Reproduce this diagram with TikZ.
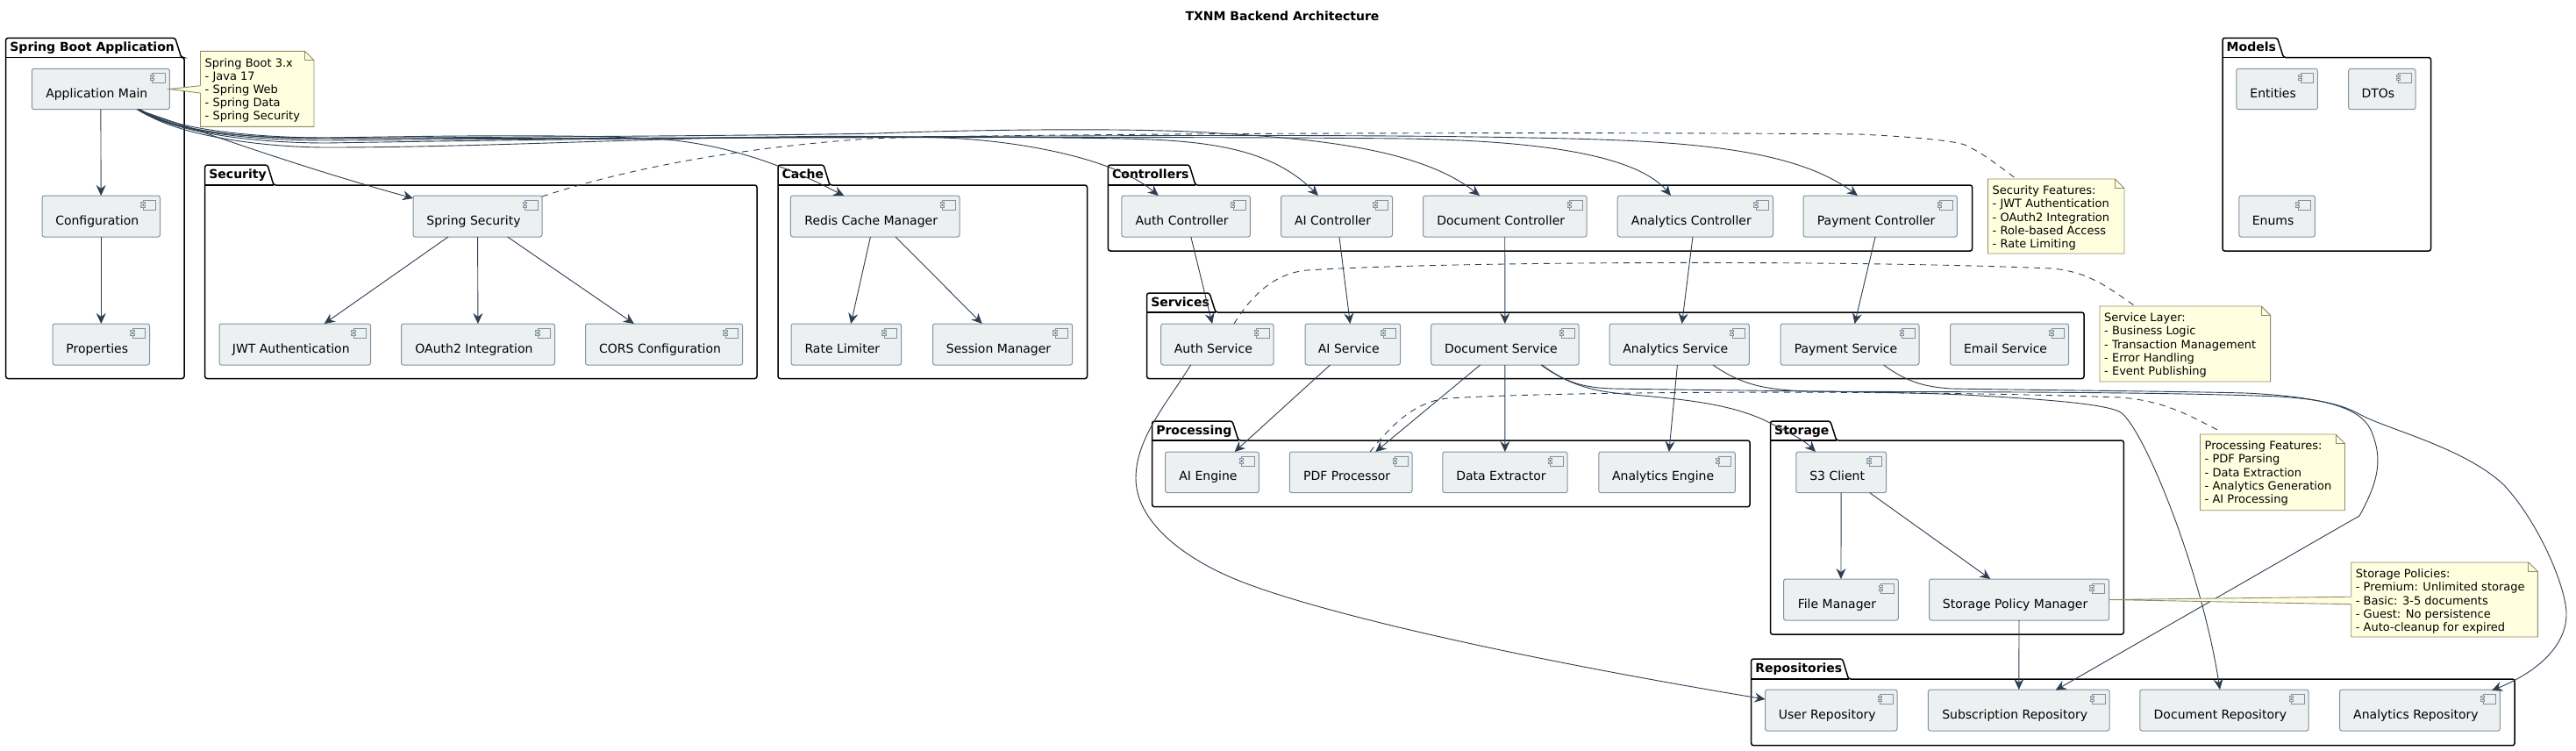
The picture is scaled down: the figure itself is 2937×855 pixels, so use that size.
\documentclass[tikz,border=0pt]{standalone}
\usepackage{fontspec}
\setmainfont{DejaVu Sans}
\usetikzlibrary{arrows.meta,calc}
\definecolor{compfill}{HTML}{ECF0F1}
\definecolor{compline}{HTML}{8492A0}
\definecolor{wire}{HTML}{2C3E50}
\definecolor{notefill}{HTML}{FFFFE0}
\definecolor{noteline}{HTML}{8C8C6E}
\tikzset{
  compbox/.style={draw=compline,fill=compfill,line width=1pt,rounded corners=2.5pt,inner sep=0pt,outer sep=0pt,anchor=north west,font=\fontsize{14}{16.8}\selectfont},
  iconline/.style={draw=compline,line width=.8pt,fill=compfill},
  arr/.style={draw=wire,line width=.9pt,-{Stealth[length=12pt,width=11pt,inset=4pt]}},
  notewire/.style={draw=wire,line width=.9pt,dash pattern=on 7pt off 6pt},
  pkgline/.style={draw=black,line width=1.5pt,rounded corners=2.5pt,fill=white},
  pkgtitle/.style={anchor=base west,inner sep=0pt,font=\bfseries\fontsize{14}{16.8}\selectfont},
  notebox/.style={draw=noteline,fill=notefill,line width=.9pt},
  notetext/.style={anchor=north west,inner sep=0pt,align=left,font=\fontsize{13}{15.15}\selectfont},
}
\newcommand\comp[6]{%
  \pgfmathsetmacro\compw{#4-#2}\pgfmathsetmacro\comph{#5-#3}%
  \node[compbox,minimum width=\compw pt,minimum height=\comph pt] (#1) at (#2,#3)
    {\hspace*{-9pt}\rule[-4pt]{0pt}{27pt}#6};
  \draw[iconline] ($(#1.north east)+(-19.5,5.3)$) rectangle ($(#1.north east)+(-5,16)$);
  \draw[iconline] ($(#1.north east)+(-22,7.4)$) rectangle ($(#1.north east)+(-17.6,9.4)$);
  \draw[iconline] ($(#1.north east)+(-22,11.4)$) rectangle ($(#1.north east)+(-17.6,13.4)$);
}
\newcommand\pkg[8]{%
  \draw[pkgline] (#2,#5) -- (#2,#3) -- ({#4-7},#3) -- (#4,#5) -- (#6,#5) -- (#6,#7) -- (#2,#7) -- cycle;
  \draw[draw=black,line width=1.5pt] (#2,#5) -- (#4,#5);
  \node[pkgtitle] (#1) at ({#2+4.5},{#3+15}) {#8};
}
\newcommand\notebx[6]{%
  \draw[notebox] (#2,#3) -- ({#4-10.5},#3) -- (#4,{#3+10.5}) -- (#4,#5) -- (#2,#5) -- cycle;
  \draw[draw=noteline,line width=.9pt] ({#4-10.5},#3) -- ({#4-10.5},{#3+10.5}) -- (#4,{#3+10.5});
  \coordinate (#1-box) at (#2,#3);
  \node[notetext] (#1) at ({#2+5},{#3+7.5}) {\rule{0pt}{10pt}#6};
}
\newcommand\ptat[4]{\coordinate (#1) at ($(#2)+(#3,#4)$);}
\begin{document}
\begin{tikzpicture}[x=1pt,y=-1pt]
\useasboundingbox (0,0) rectangle (2937,855);
\fill[white] (0,0) rectangle (2937,855);
\node[anchor=base,inner sep=0pt,font=\bfseries\fontsize{14}{16.8}\selectfont] (title) at (1462,23) {TXNM Backend Architecture};

% packages
\pkg{pBoot}{6.7}{43.3}{206.7}{65.5}{210}{431.5}{Spring Boot Application}
\pkg{pSec}{233.7}{188}{312}{211}{863}{431.5}{Security}
\pkg{pCache}{887}{188}{946}{211}{1239.5}{431.5}{Cache}
\pkg{pCtrl}{1263.4}{188}{1363}{211}{2248.6}{286}{Controllers}
\pkg{pSvc}{1307.6}{334}{1386}{356}{2376}{431.5}{Services}
\pkg{pProc}{1313.6}{480}{1412}{502}{1995}{577.7}{Processing}
\pkg{pStore}{2018.5}{480}{2093.8}{502}{2421.3}{723}{Storage}
\pkg{pRepo}{1996.7}{751}{2107.6}{774}{2867}{849.7}{Repositories}
\pkg{pModel}{2534}{43.3}{2603.5}{65.5}{2771.5}{286}{Models}

% components
\comp{app}{36.3}{78.3}{193.3}{124.7}{Application Main}
\comp{conf}{48}{223}{182.5}{270}{Configuration}
\comp{props}{60}{369}{170.5}{416}{Properties}
\comp{sec}{471}{223}{618}{270}{Spring Security}
\comp{jwt}{250}{369}{422.5}{416}{JWT Authentication}
\comp{oauth}{457.5}{369}{632.5}{416}{OAuth2 Integration}
\comp{cors}{667.5}{369}{846.6}{416}{CORS Configuration}
\comp{redis}{901.4}{223}{1094}{270}{Redis Cache Manager}
\comp{rate}{902}{369}{1027.7}{416}{Rate Limiter}
\comp{sess}{1063.5}{369}{1222.7}{416}{Session Manager}
\comp{cAuth}{1278.8}{223}{1425.4}{270}{Auth Controller}
\comp{cAI}{1460.5}{223}{1587.5}{270}{AI Controller}
\comp{cDoc}{1622.5}{223}{1809}{270}{Document Controller}
\comp{cAna}{1844.2}{223}{2021.5}{270}{Analytics Controller}
\comp{cPay}{2056}{223}{2231.3}{270}{Payment Controller}
\comp{sAuth}{1323.7}{369}{1452}{416}{Auth Service}
\comp{sAI}{1488}{369}{1596.6}{416}{AI Service}
\comp{sDoc}{1631.7}{369}{1800}{416}{Document Service}
\comp{sAna}{1835}{369}{1994.4}{416}{Analytics Service}
\comp{sPay}{2030}{369}{2188}{416}{Payment Service}
\comp{sMail}{2223.5}{369}{2358.6}{416}{Email Service}
\comp{eAI}{1328.6}{515}{1435.3}{561.7}{AI Engine}
\comp{ePDF}{1470.3}{515}{1610}{561.7}{PDF Processor}
\comp{eData}{1644.8}{515}{1787}{561.7}{Data Extractor}
\comp{eAna}{1822.8}{515}{1978.4}{561.7}{Analytics Engine}
\comp{s3}{2047.8}{515}{2150.6}{561.7}{S3 Client}
\comp{file}{2033.5}{660}{2164.3}{707}{File Manager}
\comp{policy}{2199.6}{660}{2404.6}{707}{Storage Policy Manager}
\comp{rUser}{2012.5}{786}{2163}{833}{User Repository}
\comp{rSub}{2198.4}{786}{2405}{833}{Subscription Repository}
\comp{rDoc}{2439.8}{786}{2632}{833}{Document Repository}
\comp{rAna}{2667.5}{786}{2850.4}{833}{Analytics Repository}
\comp{entities}{2549.8}{78.3}{2642.4}{124.7}{Entities}
\comp{dtos}{2677.7}{78.3}{2754}{124.7}{DTOs}
\comp{enums}{2552.8}{223}{2639.4}{270}{Enums}

% straight connectors
\draw[arr] (app) -- (conf);
\draw[arr] (conf) -- (props);
\draw[arr] (sec) -- (jwt);
\draw[arr] (sec) -- (oauth);
\draw[arr] (sec) -- (cors);
\draw[arr] (redis) -- (rate);
\draw[arr] (redis) -- (sess);
\draw[arr] (cAuth) -- (sAuth);
\draw[arr] (cAI) -- (sAI);
\draw[arr] (cDoc) -- (sDoc);
\draw[arr] (cAna) -- (sAna);
\draw[arr] (cPay) -- (sPay);
\draw[arr] (sAI) -- (eAI);
\draw[arr] (sDoc) -- (ePDF);
\draw[arr] (sDoc) -- (eData);
\draw[arr] (sAna) -- (eAna);
\draw[arr] (s3) -- (file);
\draw[arr] (s3) -- (policy);
\draw[arr] (policy) -- (rSub);

% curved connectors from Application Main
\ptat{appA}{app.south west}{120}{0}
\ptat{appB}{app.south west}{121.5}{0}
\ptat{appC}{app.south west}{123}{0}
\ptat{secIn}{sec.north west}{0}{3}
\ptat{redisIn}{redis.north west}{61}{0}
\ptat{cAuthIn}{cAuth.north west}{42}{0}
\ptat{cAIIn}{cAI.north west}{42.5}{0}
\ptat{cDocIn}{cDoc.north west}{64.5}{0}
\ptat{cAnaIn}{cAna.north west}{60.8}{0}
\ptat{cPayIn}{cPay.north west}{62}{0}
\draw[arr] (appA) .. controls (230,150) and (340,190) .. (secIn);
\draw[arr] (appA) .. controls (195,150) and (280,158) .. (373,157) .. controls (500,155) and (680,152) .. (769,160) .. controls (830,167) and (880,185) .. (921,203) .. controls (935,209) and (950,217) .. (redisIn);
\draw[arr] (appB) .. controls (200,155) and (300,168) .. (373,168) .. controls (600,168) and (850,150) .. (1075,157) .. controls (1160,160) and (1270,180) .. (cAuthIn);
\draw[arr] (appB) .. controls (200,152) and (290,163) .. (373,163) .. controls (550,160) and (1000,153) .. (1280,158) .. controls (1380,160) and (1450,170) .. (cAIIn);
\draw[arr] (appC) .. controls (200,150) and (280,158) .. (373,158) .. controls (550,156) and (850,155) .. (1000,152) .. controls (1100,148) and (1300,145) .. (1391,152) .. controls (1500,158) and (1620,170) .. (cDocIn);
\draw[arr] (appC) .. controls (200,152) and (290,160) .. (373,160) .. controls (700,157) and (1300,155) .. (1600,158) .. controls (1720,160) and (1860,170) .. (cAnaIn);
\draw[arr] (appC) .. controls (200,148) and (290,157) .. (373,157) .. controls (800,160) and (1400,150) .. (1742,157) .. controls (1900,160) and (2040,165) .. (cPayIn);

% curved connectors from the services
\ptat{sAuthOut}{sAuth.south west}{34}{0}
\ptat{rUserIn}{rUser.north west}{0}{11}
\draw[arr] (sAuthOut) .. controls (1330,460) and (1295,500) .. (1295,545) .. controls (1295,590) and (1340,630) .. (1401,657) .. controls (1480,692) and (1700,745) .. (rUserIn);
\ptat{sDocOutA}{sDoc.south west}{125.3}{0}
\ptat{sDocOutB}{sDoc.south west}{126.5}{0}
\ptat{s3In}{s3.north west}{22.2}{0}
\draw[arr] (sDocOutA) .. controls (1785,436) and (1810,445) .. (1850,449) .. controls (1920,455) and (1975,460) .. (2018,482) .. controls (2035,491) and (2055,500) .. (s3In);
\ptat{rDocIn}{rDoc.north west}{91.2}{0}
\draw[arr] (sDocOutB) .. controls (1785,436) and (1805,442) .. (1840,443) .. controls (1950,445) and (2150,446) .. (2239,450) .. controls (2330,455) and (2400,460) .. (2418,470) .. controls (2445,490) and (2510,650) .. (rDocIn);
\ptat{sAnaOut}{sAna.south west}{118}{0}
\ptat{rAnaIn}{rAna.north west}{173.5}{1}
\draw[arr] (sAnaOut) .. controls (1985,438) and (2010,444) .. (2060,446) .. controls (2200,447) and (2450,446) .. (2598,452) .. controls (2645,455) and (2670,461) .. (2690,472) .. controls (2720,489) and (2810,510) .. (2855,553) .. controls (2895,596) and (2926,670) .. (2926,700) .. controls (2926,735) and (2895,765) .. (rAnaIn);
\ptat{sPayOut}{sPay.south west}{117.6}{0}
\ptat{rSubIn}{rSub.north west}{145.2}{0.7}
\draw[arr] (sPayOut) .. controls (2175,436) and (2195,441) .. (2225,443) .. controls (2350,445) and (2480,446) .. (2560,448) .. controls (2640,452) and (2690,462) .. (2703,490) .. controls (2716,520) and (2714,545) .. (2690,588) -- (rSubIn);

% notes
\notebx{nBoot}{228.5}{58.3}{358}{144.3}{Spring Boot 3.x\\- Java 17\\- Spring Web\\- Spring Data\\- Spring Security}
\notebx{nSec}{2266.5}{204}{2422}{289}{Security Features:\\- JWT Authentication\\- OAuth2 Integration\\- Role-based Access\\- Rate Limiting}
\notebx{nSvc}{2394}{349}{2588.6}{435}{Service Layer:\\- Business Logic\\- Transaction Management\\- Error Handling\\- Event Publishing}
\notebx{nProc}{2508.5}{495}{2673.5}{581.7}{Processing Features:\\- PDF Parsing\\- Data Extraction\\- Analytics Generation\\- AI Processing}
\notebx{nStore}{2680.7}{641}{2893.4}{726}{Storage Policies:\\- Premium: Unlimited storage\\- Basic: 3-5 documents\\- Guest: No persistence\\- Auto-cleanup for expired}

% note wedges
\ptat{wBootA}{nBoot-box}{0}{39.4}
\ptat{wBootB}{nBoot-box}{0}{47.8}
\fill[notefill] (app.east) -- (wBootA) -- ($(wBootA)+(1,0)$) -- ($(wBootB)+(1,0)$) -- (wBootB) -- cycle;
\draw[draw=noteline,line width=.9pt] (wBootA) -- (app.east) -- (wBootB);
\ptat{wStoreA}{nStore-box}{0}{39.2}
\ptat{wStoreB}{nStore-box}{0}{47.7}
\fill[notefill] (policy.east) -- (wStoreA) -- ($(wStoreA)+(1,0)$) -- ($(wStoreB)+(1,0)$) -- (wStoreB) -- cycle;
\draw[draw=noteline,line width=.9pt] (wStoreA) -- (policy.east) -- (wStoreB);

% dashed note links
\ptat{secOut}{sec.north east}{0}{1}
\ptat{nSecIn}{nSec-box}{32.5}{0}
\draw[notewire] (secOut) .. controls (700,197) and (820,170) .. (991,158) .. controls (1150,152) and (1800,150) .. (2120,153) .. controls (2180,156) and (2225,160) .. (2240,165) .. controls (2262,175) and (2280,190) .. (nSecIn);
\ptat{sAuthNote}{sAuth.north west}{83.3}{0}
\ptat{nSvcIn}{nSvc-box}{39}{-1}
\draw[notewire] (sAuthNote) .. controls (1425,340) and (1450,312) .. (1490,308) .. controls (1650,298) and (2100,296) .. (2340,306) .. controls (2380,310) and (2400,325) .. (nSvcIn);
\ptat{ePDFNote}{ePDF.north west}{91.7}{0}
\ptat{nProcIn}{nProc-box}{23.5}{-3}
\draw[notewire] (ePDFNote) .. controls (1590,480) and (1615,458) .. (1650,454) .. controls (1800,445) and (2200,445) .. (2418,453) .. controls (2465,457) and (2490,470) .. (nProcIn);
\end{tikzpicture}
\end{document}
